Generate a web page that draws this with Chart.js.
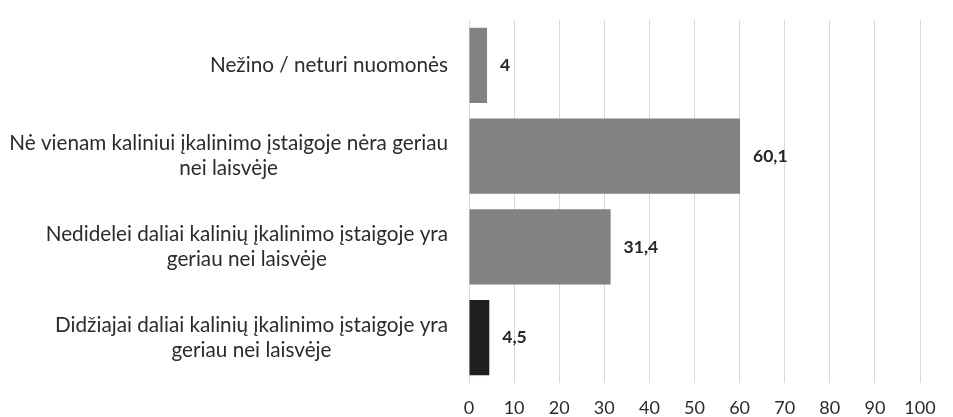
<!DOCTYPE html>
<html>
<head>
<meta charset="utf-8">
<script src="https://cdn.jsdelivr.net/npm/chart.js@4"></script>
<style>
  body { margin: 0; background: #fff; }
  #wrap { width: 953px; height: 417px; }
</style>
</head>
<body>
<div id="wrap"><canvas id="chart" width="953" height="417"></canvas></div>
<script>
const categories = [
    ['Nežino / neturi nuomonės'],
    ['Nė vienam kaliniui įkalinimo įstaigoje nėra geriau', 'nei laisvėje'],
    ['Nedidelei daliai kalinių įkalinimo įstaigoje yra', 'geriau nei laisvėje'],
    ['Didžiajai daliai kalinių įkalinimo įstaigoje yra', 'geriau nei laisvėje']
];
const values = [4, 60.1, 31.4, 4.5];
const barColors = ['#828285', '#828285', '#828285', '#231f20'];
const xMin = 0;
const xMax = 100;
const xStep = 10;

const fontFamily = 'Lato, "Open Sans", sans-serif';

// category labels: block right aligned, lines centred to each other
const yLabels = {
    id: 'yLabels',
    afterDraw(chart) {
        const ctx = chart.ctx;
        const y = chart.scales.y;
        const right = chart.chartArea.left - 21;
        ctx.save();
        ctx.font = '20.7px ' + fontFamily;
        ctx.fillStyle = '#2b2b2b';
        ctx.textAlign = 'center';
        ctx.textBaseline = 'middle';
        categories.forEach((lines, i) => {
            const cy = y.getPixelForValue(i);
            const maxW = Math.max(...lines.map(t => ctx.measureText(t).width));
            const cx = right - maxW / 2;
            lines.forEach((t, j) => {
                ctx.fillText(t, cx, cy + (j - (lines.length - 1) / 2) * 25);
            });
        });
        ctx.restore();
    }
};

const valueLabels = {
    id: 'valueLabels',
    afterDatasetsDraw(chart) {
        const ctx = chart.ctx;
        const meta = chart.getDatasetMeta(0);
        ctx.save();
        ctx.font = 'bold 17.5px ' + fontFamily;
        ctx.fillStyle = '#262626';
        ctx.textAlign = 'left';
        ctx.textBaseline = 'middle';
        meta.data.forEach((bar, i) => {
            ctx.fillText(String(values[i]).replace('.', ','), bar.x + 13, bar.y);
        });
        ctx.restore();
    }
};

new Chart(document.getElementById('chart').getContext('2d'), {
    type: 'bar',
    data: {
        labels: categories,
        datasets: [{
            data: values,
            backgroundColor: barColors,
            barPercentage: 0.83,
            categoryPercentage: 1
        }]
    },
    options: {
        indexAxis: 'y',
        responsive: false,
        animation: false,
        layout: { padding: { left: 469, right: 33, top: 20, bottom: 0 } },
        plugins: {
            legend: { display: false },
            tooltip: { enabled: false }
        },
        scales: {
            y: { display: false },
            x: {
                min: xMin,
                max: xMax,
                afterFit: scale => { scale.height = 34; },
                grid: { color: '#d9d9d9', lineWidth: 1, drawTicks: false },
                border: { display: false },
                ticks: {
                    stepSize: xStep,
                    padding: 14,
                    color: '#2b2b2b',
                    font: { family: fontFamily, size: 18 }
                }
            }
        }
    },
    plugins: [yLabels, valueLabels]
});
</script>
</body>
</html>
